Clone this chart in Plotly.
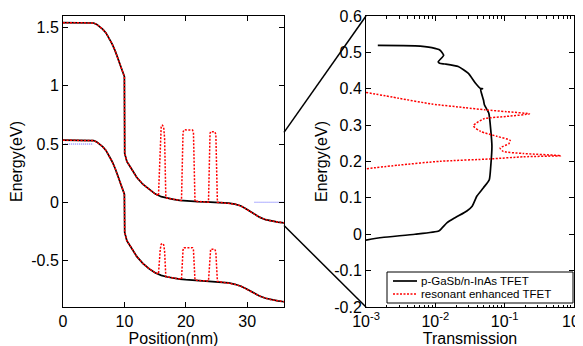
import plotly.graph_objects as go

# ---------------- Left panel: band diagram ----------------
pos_black = [0, 1, 2, 3, 4, 5, 5.5, 6, 6.5, 7, 7.5, 8, 8.5, 9, 9.5, 9.9, 10.0, 10.05, 10.4, 11, 11.5,
             12, 13, 14, 15, 16, 17, 18, 19, 20, 22, 24, 26, 27, 28, 29, 30, 31, 32, 33, 34, 35, 36]
ec_black = [1.543, 1.543, 1.543, 1.543, 1.543, 1.54, 1.528, 1.51, 1.485, 1.455, 1.41, 1.36, 1.30, 1.225,
            1.14, 1.09, 1.08, 0.42, 0.35, 0.30, 0.26, 0.215, 0.155, 0.11, 0.072, 0.048, 0.034, 0.025,
            0.016, 0.011, 0.005, 0.001, -0.004, -0.008, -0.016, -0.032, -0.062, -0.098, -0.128, -0.15,
            -0.163, -0.171, -0.177]
ev_black = [0.533, 0.533, 0.533, 0.533, 0.533, 0.53, 0.518, 0.50, 0.475, 0.445, 0.40, 0.35, 0.29, 0.215,
            0.13, 0.08, 0.07, -0.26, -0.33, -0.38, -0.42, -0.465, -0.525, -0.57, -0.605, -0.628, -0.642,
            -0.652, -0.66, -0.665, -0.672, -0.678, -0.686, -0.692, -0.705, -0.722, -0.747, -0.778,
            -0.805, -0.825, -0.838, -0.847, -0.855]

pos_red = [0, 1, 2, 3, 4, 5, 5.5, 6, 6.5, 7, 7.5, 8, 8.5, 9, 9.5, 9.9, 10.0, 10.05, 10.4, 11, 11.5,
           12, 13, 14, 15, 15.55, 15.85, 16.0, 16.2, 16.4, 16.55, 16.75, 17, 18, 19, 19.3, 19.55,
           19.7, 21.1, 21.25, 21.5, 22, 23.7, 23.95, 24.05, 24.75, 24.9, 25.15, 26, 27, 28, 29, 30,
           31, 32, 33, 34, 35, 36]
ec_red = [1.543, 1.543, 1.543, 1.543, 1.543, 1.54, 1.528, 1.51, 1.485, 1.455, 1.41, 1.36, 1.30, 1.225,
          1.14, 1.09, 1.08, 0.42, 0.35, 0.30, 0.26, 0.215, 0.155, 0.11, 0.072, 0.055, 0.60, 0.655,
          0.662, 0.645, 0.55, 0.042, 0.034, 0.025, 0.016, 0.015, 0.60, 0.622, 0.62, 0.60, 0.008,
          0.005, 0.001, 0.59, 0.607, 0.605, 0.58, 0.0, -0.004, -0.008, -0.016, -0.032, -0.062,
          -0.098, -0.128, -0.15, -0.163, -0.171, -0.177]
ev_red = [0.533, 0.533, 0.533, 0.533, 0.533, 0.53, 0.518, 0.50, 0.475, 0.445, 0.40, 0.35, 0.29, 0.215,
          0.13, 0.08, 0.07, -0.26, -0.33, -0.38, -0.42, -0.465, -0.525, -0.57, -0.605, -0.617, -0.40,
          -0.36, -0.353, -0.365, -0.42, -0.64, -0.642, -0.652, -0.66, -0.661, -0.41, -0.39, -0.39,
          -0.41, -0.668, -0.672, -0.677, -0.42, -0.403, -0.405, -0.43, -0.68, -0.686, -0.692, -0.705,
          -0.722, -0.747, -0.778, -0.805, -0.825, -0.838, -0.847, -0.855]

fermi_left_x = [0.3, 4.9]
fermi_left_y = [0.5, 0.5]
fermi_right_x = [31.2, 36]
fermi_right_y = [0.0, 0.0]

# ---------------- Right panel: transmission ----------------
trans_black = [1.48e-3, 5.1e-3, 8.9e-3, 1.17e-2, 1.32e-2, 1.10e-2, 1.15e-2, 1.38e-2, 2.14e-2, 3.0e-2,
               3.8e-2, 4.47e-2, 4.8e-2, 4.5e-2, 4.95e-2, 5.1e-2, 5.9e-2, 6.3e-2, 6.55e-2, 6.3e-2,
               6.0e-2, 4.95e-2, 3.98e-2, 3.4e-2, 2.85e-2, 1.95e-2, 1.48e-2, 1.26e-2, 1.12e-2, 5.1e-3,
               1.7e-3, 1.0e-3]
energy_black = [0.519, 0.518, 0.513, 0.506, 0.492, 0.474, 0.470, 0.468, 0.461, 0.442,
                0.415, 0.401, 0.400, 0.399, 0.369, 0.356, 0.333, 0.287, 0.242, 0.187,
                0.150, 0.128, 0.105, 0.077, 0.064, 0.046, 0.032, 0.018, 0.009, 0.0,
                -0.009, -0.016]

trans_red = [1.0e-3, 2.95e-3, 8.9e-3, 2.7e-2, 5.2e-2, 1.07e-1, 2.28e-1, 1.07e-1, 4.95e-2, 3.55e-2,
             4.47e-2, 7.8e-2, 1.2e-1, 1.15e-1, 8.6e-2, 9.5e-2, 1.86e-1, 6.45e-1, 1.86e-1, 6.2e-2,
             1.17e-2, 2.95e-3, 1.0e-3]
energy_red = [0.390, 0.374, 0.358, 0.348, 0.342, 0.337, 0.331, 0.324, 0.317, 0.298,
              0.283, 0.269, 0.258, 0.249, 0.237, 0.228, 0.222, 0.216, 0.213, 0.207,
              0.2006, 0.190, 0.180]

series_names = ["p-GaSb/n-InAs TFET", "resonant enhanced TFET"]

left_xticks = [0, 10, 20, 30]
left_yticks = [-0.5, 0, 0.5, 1, 1.5]
left_yticktext = ["-0.5", "0", "0.5", "1", "1.5"]
right_yticks = [-0.2, -0.1, 0, 0.1, 0.2, 0.3, 0.4, 0.5, 0.6]
right_yticktext = ["-0.2", "-0.1", "0", "0.1", "0.2", "0.3", "0.4", "0.5", "0.6"]
right_xticks = [1e-3, 1e-2, 1e-1, 1]
right_xticktext = ["10<sup>-3</sup>", "10<sup>-2</sup>", "10<sup>-1</sup>", "10<sup>0</sup>"]
right_xminor = [m * 10.0 ** e for e in (-3, -2, -1) for m in range(2, 10)]

left_xrange = [0, 36]
left_yrange = [-0.9, 1.6]
right_yrange = [-0.2, 0.6]
EPS = 1e-6  # keep the end ticks inside the range

W, H = 583, 346
OFF = 8  # page body margin of the browser


def px(xp):
    return (xp - OFF) / W


def py(yp):
    return 1 - (yp - OFF) / H


left_dom = [px(63), px(284)]
right_dom = [px(366), px(574)]
y_dom = [py(307), py(16)]

FONT = "Arial, Liberation Sans, sans-serif"
RED_DOT = "2px,1.5px"
BLACK_W = 1.7
RED_W = 1.5

fig = go.Figure()
fig.add_trace(go.Scatter(x=pos_black, y=ec_black, mode="lines", line=dict(color="black", width=BLACK_W),
                         showlegend=False, xaxis="x", yaxis="y"))
fig.add_trace(go.Scatter(x=pos_black, y=ev_black, mode="lines", line=dict(color="black", width=BLACK_W),
                         showlegend=False, xaxis="x", yaxis="y"))
fig.add_trace(go.Scatter(x=pos_red, y=ec_red, mode="lines", line=dict(color="red", width=RED_W, dash=RED_DOT),
                         showlegend=False, xaxis="x", yaxis="y"))
fig.add_trace(go.Scatter(x=pos_red, y=ev_red, mode="lines", line=dict(color="red", width=RED_W, dash=RED_DOT),
                         showlegend=False, xaxis="x", yaxis="y"))
for fx, fy in ((fermi_left_x, fermi_left_y), (fermi_right_x, fermi_right_y)):
    fig.add_trace(go.Scatter(x=fx, y=fy, mode="lines", line=dict(color="#3333ff", width=0.8, dash="1px,1px"),
                             showlegend=False, xaxis="x", yaxis="y"))

fig.add_trace(go.Scatter(x=trans_black, y=energy_black, mode="lines", name=series_names[0],
                         line=dict(color="black", width=BLACK_W, shape="spline", smoothing=0.5),
                         showlegend=False, xaxis="x2", yaxis="y2"))
fig.add_trace(go.Scatter(x=trans_red, y=energy_red, mode="lines", name=series_names[1],
                         line=dict(color="red", width=RED_W, dash=RED_DOT, shape="spline", smoothing=0.6),
                         showlegend=False, xaxis="x2", yaxis="y2"))

axis_common = dict(showline=True, linecolor="black", linewidth=1, mirror="ticks", ticks="inside",
                   ticklen=5, tickcolor="black", showgrid=False, zeroline=False, automargin=False,
                   ticklabeloverflow="allow",
                   tickfont=dict(family=FONT, size=16, color="black"))
title_font = dict(family=FONT, size=16, color="black")

fig.update_layout(
    width=W, height=H, margin=dict(l=0, r=0, t=0, b=0, autoexpand=False),
    paper_bgcolor="white", plot_bgcolor="white", showlegend=False,
    xaxis=dict(domain=left_dom, range=left_xrange, tickvals=left_xticks, anchor="y",
               title=dict(text="Position(nm)", font=title_font, standoff=0), **axis_common),
    yaxis=dict(domain=y_dom, range=left_yrange, tickvals=left_yticks, ticktext=left_yticktext, anchor="x",
               title=dict(text="Energy(eV)", font=title_font, standoff=4), **axis_common),
    xaxis2=dict(domain=right_dom, type="log", range=[-3, 0], tickvals=right_xticks, ticktext=right_xticktext,
                anchor="y2", minor=dict(tickvals=right_xminor, ticks="inside", ticklen=2.5, tickcolor="black"),
                title=dict(text="Transmission", font=title_font, standoff=0), **axis_common),
    yaxis2=dict(domain=y_dom, range=[right_yrange[0] - EPS, right_yrange[1] + EPS], tickvals=right_yticks,
                ticktext=right_yticktext, anchor="x2",
                title=dict(text="Energy(eV)", font=title_font, standoff=2), **axis_common),
)

# zoom connector lines: left panel energy window [-0.2, 0.6] -> right panel corners
def left_y_paper(v):
    return y_dom[0] + (v - left_yrange[0]) / (left_yrange[1] - left_yrange[0]) * (y_dom[1] - y_dom[0])


fig.add_shape(type="line", xref="paper", yref="paper", x0=left_dom[1], y0=left_y_paper(right_yrange[1]),
              x1=right_dom[0], y1=y_dom[1], line=dict(color="black", width=1.5))
fig.add_shape(type="line", xref="paper", yref="paper", x0=left_dom[1], y0=left_y_paper(right_yrange[0]),
              x1=right_dom[0], y1=y_dom[0], line=dict(color="black", width=1.5))

# legend box (MATLAB style, compact rows)
fig.add_shape(type="rect", xref="paper", yref="paper", x0=px(387), x1=px(573), y0=py(303), y1=py(272),
              line=dict(color="black", width=1), fillcolor="white", layer="above")
legend_rows = [(281, dict(color="black", width=BLACK_W)),
               (294, dict(color="red", width=RED_W, dash=RED_DOT))]
for name, (row_y, style) in zip(series_names, legend_rows):
    fig.add_shape(type="line", xref="paper", yref="paper", x0=px(393), x1=px(417), y0=py(row_y),
                  y1=py(row_y), line=style, layer="above")
    fig.add_annotation(text=name, xref="paper", yref="paper", x=px(419), y=py(row_y), xanchor="left",
                       yanchor="middle", showarrow=False, font=dict(family=FONT, size=11.5, color="black"))

fig.write_html("out.html")
